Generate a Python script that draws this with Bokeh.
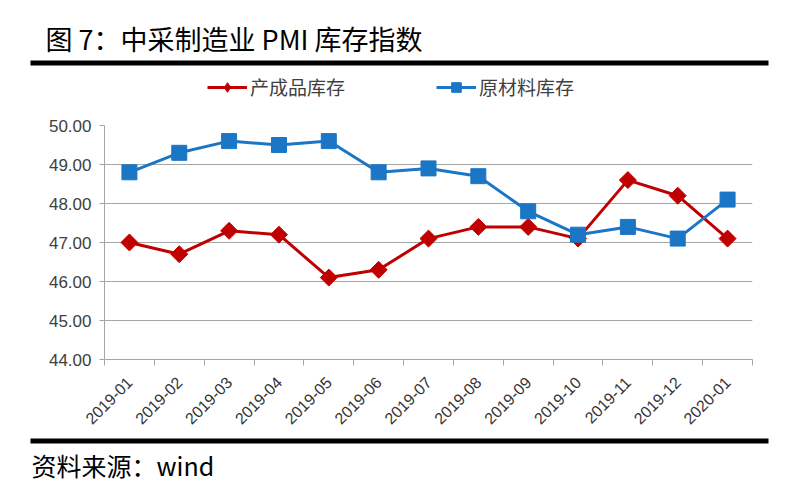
from bokeh.plotting import figure
from bokeh.models import (Legend, LegendItem, FixedTicker, NumeralTickFormatter, Range1d,
                          Label, BoxAnnotation)
from bokeh.embed import file_html
from bokeh.resources import INLINE
import math

months = ["2019-01", "2019-02", "2019-03", "2019-04", "2019-05", "2019-06", "2019-07",
          "2019-08", "2019-09", "2019-10", "2019-11", "2019-12", "2020-01"]
finished_goods = [47.0, 46.7, 47.3, 47.2, 46.1, 46.3, 47.1, 47.4, 47.4, 47.1, 48.6, 48.2, 47.1]
raw_materials = [48.8, 49.3, 49.6, 49.5, 49.6, 48.8, 48.9, 48.7, 47.8, 47.2, 47.4, 47.1, 48.1]
y_ticks = [44, 45, 46, 47, 48, 49, 50]

title_text = "图 7：中采制造业 PMI 库存指数"
source_text = "资料来源：wind"
series_names = ["产成品库存", "原材料库存"]

RED = "#C00000"
BLUE = "#1B76C6"
CJK = "Noto Sans CJK SC"
W = 775

xs = [i + 0.5 for i in range(len(months))]


def blank_fig(h):
    f = figure(width=W, height=h, output_backend="svg", toolbar_location=None,
               x_range=Range1d(0, len(months)), y_range=Range1d(0, 1),
               min_border=0, min_border_left=0, min_border_right=0,
               min_border_top=0, min_border_bottom=0, margin=0)
    f.axis.visible = False
    f.grid.visible = False
    f.outline_line_color = None
    return f


# ---------- top block: title, rule, legend ----------
TOP_H = 105
top = blank_fig(TOP_H)
top.add_layout(Label(x=45, y=TOP_H - 38, x_units="screen", y_units="screen", text=title_text,
                     text_font=CJK, text_font_size="27px", text_color="black",
                     text_baseline="middle"))
top.add_layout(BoxAnnotation(left=30, right=768, bottom=TOP_H - 65, top=TOP_H - 60,
                             left_units="screen", right_units="screen",
                             bottom_units="screen", top_units="screen",
                             fill_color="black", fill_alpha=1, line_color=None))
# legend renderers (same data, lying outside this block's visible range)
tl1 = top.line(xs, finished_goods, line_color=RED, line_width=3)
tm1 = top.scatter(xs, finished_goods, marker="diamond", size=14, fill_color=RED, line_color=RED)
tl2 = top.line(xs, raw_materials, line_color=BLUE, line_width=3)
tm2 = top.scatter(xs, raw_materials, marker="square", size=14, fill_color=BLUE, line_color=BLUE)
legend = Legend(items=[LegendItem(label=series_names[0], renderers=[tl1, tm1]),
                       LegendItem(label=series_names[1], renderers=[tl2, tm2])],
                orientation="horizontal", location=(207, TOP_H - 100),
                glyph_width=40, glyph_height=24, label_standoff=3, spacing=91,
                label_text_font=CJK, label_text_font_size="19px", label_text_color="#404040",
                border_line_color=None, background_fill_alpha=0, padding=0, margin=0)
top.add_layout(legend, "center")

# ---------- main chart ----------
MAIN_Y0 = TOP_H
MAIN_H = 437 - MAIN_Y0
FRAME_L, FRAME_R = 104, 752
FRAME_T, FRAME_B = 125 - MAIN_Y0, 359 - MAIN_Y0

p = figure(width=W, height=MAIN_H, output_backend="svg", toolbar_location=None,
           x_range=Range1d(0, len(months)), y_range=Range1d(44, 50),
           min_border_left=FRAME_L, min_border_right=W - FRAME_R,
           min_border_top=FRAME_T, min_border_bottom=MAIN_H - FRAME_B, margin=0)
p.outline_line_color = None

p.yaxis.ticker = FixedTicker(ticks=y_ticks)
p.yaxis.formatter = NumeralTickFormatter(format="0.00")
p.yaxis.axis_line_color = "#A6A6A6"
p.yaxis.major_tick_line_color = "#A6A6A6"
p.yaxis.major_tick_out = 5
p.yaxis.major_tick_in = 0
p.yaxis.minor_tick_line_color = None
p.yaxis.major_label_text_font = "Liberation Sans"
p.yaxis.major_label_text_font_size = "17px"
p.yaxis.major_label_text_color = "#404040"
p.yaxis.major_label_standoff = 8

p.xaxis.ticker = FixedTicker(ticks=xs, minor_ticks=list(range(len(months) + 1)))
p.xaxis.major_label_overrides = {x: m for x, m in zip(xs, months)}
p.xaxis.major_label_orientation = math.pi / 4
p.xaxis.axis_line_color = "#A6A6A6"
p.xaxis.major_tick_line_color = None
p.xaxis.minor_tick_line_color = "#A6A6A6"
p.xaxis.minor_tick_out = 6
p.xaxis.minor_tick_in = 0
p.xaxis.major_label_text_font = "Liberation Sans"
p.xaxis.major_label_text_font_size = "16px"
p.xaxis.major_label_text_color = "#333333"
p.xaxis.major_label_standoff = 14

p.xgrid.grid_line_color = None
p.ygrid.ticker = FixedTicker(ticks=y_ticks)
p.ygrid.grid_line_color = "#A6A6A6"
p.ygrid.grid_line_width = 1.2

p.line(xs, finished_goods, line_color=RED, line_width=3)
p.scatter(xs, finished_goods, marker="square", angle=math.pi / 4, size=12,
          fill_color=RED, line_color=RED)
p.line(xs, raw_materials, line_color=BLUE, line_width=3)
p.scatter(xs, raw_materials, marker="square", size=15, fill_color=BLUE, line_color=BLUE)

# ---------- bottom block: rule and source ----------
BOT_H = 48
bot = blank_fig(BOT_H)
bot.add_layout(BoxAnnotation(left=30, right=768, bottom=BOT_H - 6, top=BOT_H - 1,
                             left_units="screen", right_units="screen",
                             bottom_units="screen", top_units="screen",
                             fill_color="black", fill_alpha=1, line_color=None))
bot.add_layout(Label(x=31, y=BOT_H - 27, x_units="screen", y_units="screen", text=source_text,
                     text_font=CJK, text_font_size="25px", text_color="black",
                     text_baseline="middle"))

open("out.html", "w").write(file_html([top, p, bot], INLINE))
